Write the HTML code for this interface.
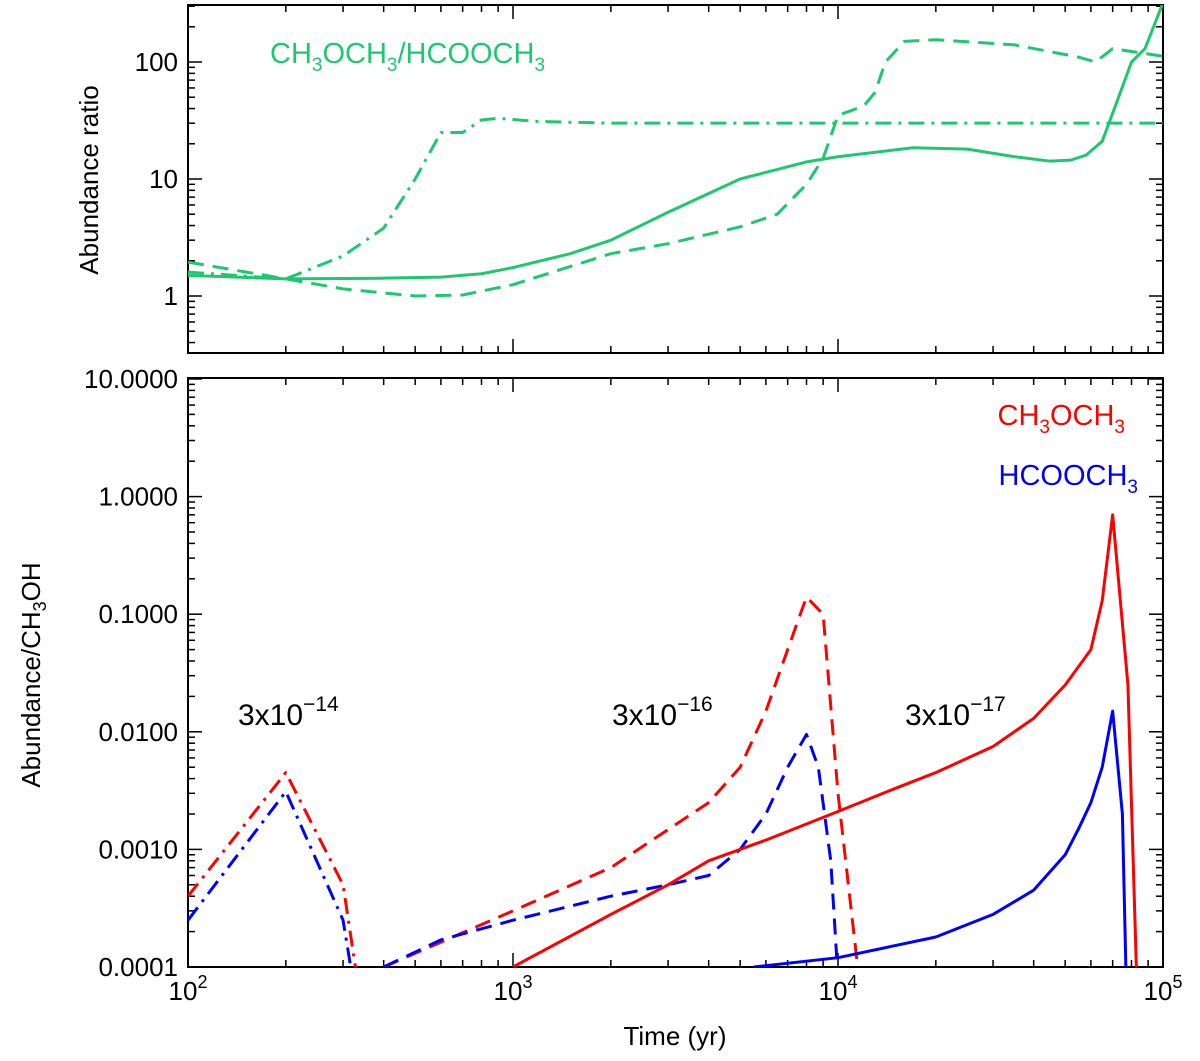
<!DOCTYPE html>
<html><head><meta charset="utf-8"><style>
body{margin:0;background:#fff}
svg{display:block;font-family:"Liberation Sans","DejaVu Sans",sans-serif}
</style></head><body>
<svg id="c" width="1200" height="1061"></svg>
<script>
const topSolidT=[100,200,400,600,800,1000,1500,2000,3000,5000,8000,10000,17000,25000,35000,45000,52000,58000,65000,72000,80000,88000,100000];
const topSolidV=[1.5,1.4,1.42,1.45,1.55,1.75,2.3,3.0,5.2,10,14,15.5,18.5,18,15.5,14.2,14.5,16,21,45,100,130,320];
const topDashT=[100,200,300,500,700,1000,2000,3000,5000,6500,8000,9000,10000,12000,13000,14000,16000,20000,35000,55000,62000,70000,100000];
const topDashV=[1.95,1.4,1.15,1.0,1.02,1.25,2.3,2.8,3.9,5,9,15,35,42,55,100,150,155,140,110,100,130,112];
const topDDT=[100,200,300,400,500,600,700,800,900,1200,2000,100000];
const topDDV=[1.6,1.4,2.2,3.8,10,25,25,32,33,31,30,30];
const rDDT=[100,200,300,340];const rDDV=[0.0004,0.0045,0.0005,0.00005];
const bDDT=[100,200,300,330];const bDDV=[0.00025,0.0031,0.00025,0.00005];
const rDT=[400,1000,2000,4000,5000,6000,7000,8000,9000,10000,11600];
const rDV=[0.0001,0.0003,0.0007,0.0025,0.005,0.015,0.05,0.14,0.1,0.003,0.00008];
const bDT=[400,600,1000,2000,3000,4000,5000,6000,7000,8000,8700,9500,10000];
const bDV=[0.0001,0.00017,0.00025,0.0004,0.0005,0.0006,0.001,0.002,0.005,0.0095,0.005,0.0008,0.00008];
const rST=[1000,2000,3000,4000,6000,10000,15000,20000,30000,40000,50000,60000,65000,70000,78000,83000];
const rSV=[0.0001,0.00028,0.0005,0.0008,0.0012,0.0021,0.0033,0.0045,0.0075,0.013,0.025,0.05,0.13,0.7,0.025,0.00008];
const bST=[5500,10000,20000,30000,40000,50000,55000,60000,65000,70000,75000,77000];
const bSV=[0.0001,0.00012,0.00018,0.00028,0.00045,0.0009,0.0015,0.0025,0.005,0.015,0.002,0.00008];
const topTicks=[1,10,100];const botTicks=["0.0001","0.0010","0.0100","0.1000","1.0000","10.0000"];

const S=document.getElementById('c'),NS='http://www.w3.org/2000/svg';
function el(t,a,p){const e=document.createElementNS(NS,t);for(const k in a)e.setAttribute(k,a[k]);(p||S).appendChild(e);return e;}
const X0=188,X1=1163;
const xs=t=>X0+(Math.log10(t)-2)*(X1-X0)/3;
const yT=v=>296-Math.log10(v)*117;
const yB=v=>967-(Math.log10(v)+4)*117.6;
const defs=el('defs',{});
const c1=el('clipPath',{id:'ct'},defs);el('rect',{x:X0,y:5,width:X1-X0,height:348},c1);
const c2=el('clipPath',{id:'cb'},defs);el('rect',{x:X0,y:378,width:X1-X0,height:589},c2);
function line(T,V,ys,col,dash,clip,name){
  const p=el('polyline',{points:T.map((t,i)=>xs(t)+','+ys(V[i])).join(' '),fill:'none',stroke:col,'stroke-width':3,'stroke-linejoin':'round','stroke-dasharray':dash,'clip-path':'url(#'+clip+')'});
  
  
}
function frame(y0,y1,ys,vmin,vmax,name){
  const r=el('rect',{x:X0,y:y0,width:X1-X0,height:y1-y0,fill:'none',stroke:'#000','stroke-width':2});
  
  
  for(let d=2;d<5;d++)for(let m=1;m<10;m++){const x=xs(m*Math.pow(10,d));if(x>X1+1)continue;const L=m==1?14:7;
    el('line',{x1:x,x2:x,y1:y1,y2:y1-L,stroke:'#000','stroke-width':1.5});el('line',{x1:x,x2:x,y1:y0,y2:y0+L,stroke:'#000','stroke-width':1.5});}
  for(let d=Math.floor(Math.log10(vmin));d<=Math.ceil(Math.log10(vmax));d++)for(let m=1;m<10;m++){const v=m*Math.pow(10,d);const y=ys(v);if(y<y0-1||y>y1+1)continue;const L=m==1?14:7;
    el('line',{x1:X0,x2:X0+L,y1:y,y2:y,stroke:'#000','stroke-width':1.5});el('line',{x1:X1,x2:X1-L,y1:y,y2:y,stroke:'#000','stroke-width':1.5});}
}
frame(5,353,yT,0.3,320,'top-plot-frame');
frame(378,967,yB,0.0001,10,'bottom-plot-frame');
function txt(x,y,s,o,name){const t=el('text',Object.assign({x:x,y:y,'font-size':26,fill:'#000'},o||{}));t.innerHTML=s;return t;}
topTicks.forEach(v=>txt(178,yT(v)+9,String(v),{'text-anchor':'end'},'top-y-tick-label'));
botTicks.forEach(v=>txt(178,yB(+v)+9,v,{'text-anchor':'end'},'bottom-y-tick-label'));
[2,3,4,5].forEach(d=>txt(xs(Math.pow(10,d)),1000,'10<tspan dy="-12" font-size="18">'+d+'</tspan>',{'text-anchor':'middle'},'x-tick-label'));
txt(675,1045,'Time (yr)',{'text-anchor':'middle'},'x-axis-title');
txt(98,180,'Abundance ratio',{'text-anchor':'middle',transform:'rotate(-90 98 180)'},'top-y-axis-title');
txt(40,675,'Abundance/CH<tspan dy="6" font-size="18">3</tspan><tspan dy="-6">OH</tspan>',{'text-anchor':'middle',transform:'rotate(-90 40 675)'},'bottom-y-axis-title');
const G='#1ec86e';
txt(270,63,'CH<tspan dy="8" font-size="19">3</tspan><tspan dy="-8">OCH</tspan><tspan dy="8" font-size="19">3</tspan><tspan dy="-8">/HCOOCH</tspan><tspan dy="8" font-size="19">3</tspan>',{fill:G,'font-size':29},'top-legend-label');
txt(1125,425,'CH<tspan dy="8" font-size="19">3</tspan><tspan dy="-8">OCH</tspan><tspan dy="8" font-size="19">3</tspan>',{fill:'#f00','font-size':29,'text-anchor':'end'},'legend-ch3och3');
txt(1138,485,'HCOOCH<tspan dy="8" font-size="19">3</tspan>',{fill:'#00f','font-size':29,'text-anchor':'end'},'legend-hcooch3');
txt(238,725,'3x10<tspan dy="-14" font-size="21">−14</tspan>',{'font-size':30},'label-3e-14');
txt(612,725,'3x10<tspan dy="-14" font-size="21">−16</tspan>',{'font-size':30},'label-3e-16');
txt(905,725,'3x10<tspan dy="-14" font-size="21">−17</tspan>',{'font-size':30},'label-3e-17');
line(topSolidT,topSolidV,yT,G,'','ct','ratio-solid');
line(topDashT,topDashV,yT,G,'16 9','ct','ratio-dashed');
line(topDDT,topDDV,yT,G,'16 7 3 7','ct','ratio-dashdot');
line(rDDT,rDDV,yB,'#f00','16 7 3 7','cb','ch3och3-dashdot');
line(bDDT,bDDV,yB,'#00f','16 7 3 7','cb','hcooch3-dashdot');
line(rDT,rDV,yB,'#f00','16 9','cb','ch3och3-dashed');
line(bDT,bDV,yB,'#00f','16 9','cb','hcooch3-dashed');
line(rST,rSV,yB,'#f00','','cb','ch3och3-solid');
line(bST,bSV,yB,'#00f','','cb','hcooch3-solid');
</script>
</body></html>
